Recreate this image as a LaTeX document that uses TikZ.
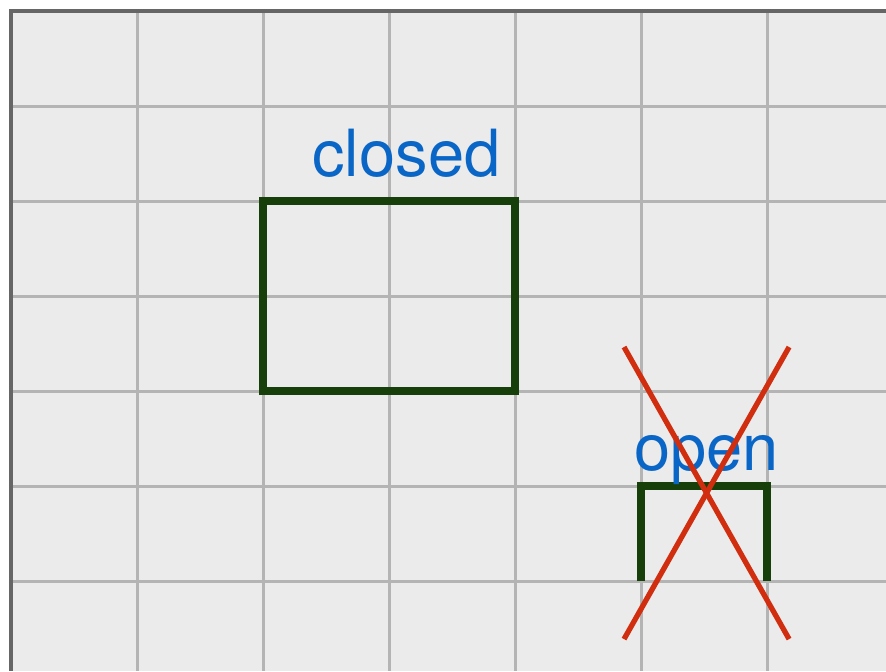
\documentclass[tikz,border=0pt]{standalone}
\usepackage{fontspec}
\setmainfont{TeX Gyre Heros}
\usepackage{xcolor}
\usetikzlibrary{positioning}
\definecolor{bggray}{HTML}{EBEBEB}
\definecolor{gridgray}{HTML}{B4B4B4}
\definecolor{framegray}{HTML}{666666}
\definecolor{shapegreen}{HTML}{173F0A}
\definecolor{crossred}{HTML}{D02E0E}
\definecolor{labelblue}{HTML}{0A66C6}
\tikzset{
  gridline/.style={draw=gridgray, line width=1.7pt},
  frameline/.style={draw=framegray, line width=2.2pt},
  shapeline/.style={draw=shapegreen, line width=4.3pt},
  crossline/.style={draw=crossred, line width=3pt},
  shapelabel/.style={text=labelblue, font=\fontsize{37}{40}\selectfont,
    inner sep=0pt, anchor=base west}
}
\begin{document}
\begin{tikzpicture}[x=2.52cm, y=-1.9cm]
  \useasboundingbox (-0.0873,-0.1158) rectangle (6.944,6.947);
  \fill[bggray] (0,0) rectangle (6.944,6.947);
  % grid
  \foreach \i in {1,...,6}
    \draw[gridline] (\i,0) -- (\i,6.947);
  \foreach \j in {1,...,6}
    \draw[gridline] (0,\j) -- (6.944,\j);
  \draw[frameline] (6.944,0) -- (0,0) -- (0,6.947);
  % closed shape
  \draw[shapeline] (2,2) rectangle (4,4);
  \node[shapelabel] (closedlabel) at (2.389,1.737) {closed};
  % open shape
  \draw[shapeline] (5,6) -- (5,5) -- (6,5) -- (6,6);
  \node[shapelabel] (openlabel) at (4.944,4.832) {open};
  % cross
  \coordinate (xtl) at (4.865,3.537);
  \coordinate (xtr) at (6.175,3.537);
  \coordinate (xbl) at (4.865,6.611);
  \coordinate (xbr) at (6.175,6.611);
  \draw[crossline] (xtl) -- (xbr);
  \draw[crossline] (xtr) -- (xbl);
\end{tikzpicture}
\end{document}
